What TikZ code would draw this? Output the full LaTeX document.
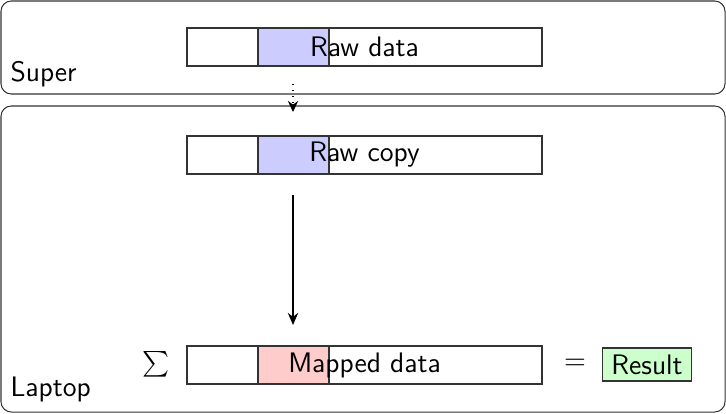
\documentclass[tikz,border=0pt]{standalone}
\usetikzlibrary{arrows.meta}
\def\u{0.39pt}
\tikzset{
  txt/.style={font=\sffamily\fontsize{11}{13}\selectfont},
  area/.style={draw=black!80, rounded corners=4pt, minimum width=724*\u, inner sep=0pt},
  bar/.style={draw=black!80, fill=white, minimum width=355*\u, minimum height=38*\u, inner sep=0pt},
  cell/.style={draw=black!80, minimum width=71*\u, minimum height=38*\u, inner sep=0pt},
  lbl/.style={txt, inner sep=0pt},
  flow/.style={-{Stealth[length=4.7pt,width=4pt]}, line width=0.8pt},
}
\begin{document}
\begin{tikzpicture}[x=\u, y=-\u]
\useasboundingbox (0,0) rectangle (726,413);
\node[area, minimum height=93*\u] (super) at (363,47.5) {};
\node[area, minimum height=306*\u] (laptop) at (363,259) {};
\node[lbl, anchor=base west] (superl) at (10,81) {Super};
\node[lbl, anchor=base west] (laptopl) at (10,396) {Laptop};
% bars
\node[bar] (raw) at (364.5,47) {};
\node[cell, fill=blue!20] (rawc) at (293.5,47) {};
\node[lbl] (rawt) at (raw.center) {Raw data};
\node[bar] (copy) at (364.5,155) {};
\node[cell, fill=blue!20] (copyc) at (293.5,155) {};
\node[lbl] (copyt) at (copy.center) {Raw copy};
\node[bar] (map) at (364.5,365) {};
\node[cell, fill=red!20] (mapc) at (293.5,365) {};
\node[lbl] (mapt) at (map.center) {Mapped data};
\node[txt] (sum) at (156,364) {$\sum$};
\node[txt] (eq) at (575,364) {$=$};
\node[txt, draw=black!80, fill=green!20, inner xsep=3.6pt, inner ysep=0pt, minimum height=33*\u] (res) at (647,364.5) {Result};
% arrows
\coordinate (d1) at (293,84);
\coordinate (d2) at (293,112);
\draw[line width=0.4pt, dotted, -{Stealth[length=4.3pt,width=4pt]}] (d1) -- (d2);
\coordinate (a1) at (293,195);
\coordinate (a2) at (293,325);
\draw[flow] (a1) -- (a2);
\end{tikzpicture}
\end{document}
